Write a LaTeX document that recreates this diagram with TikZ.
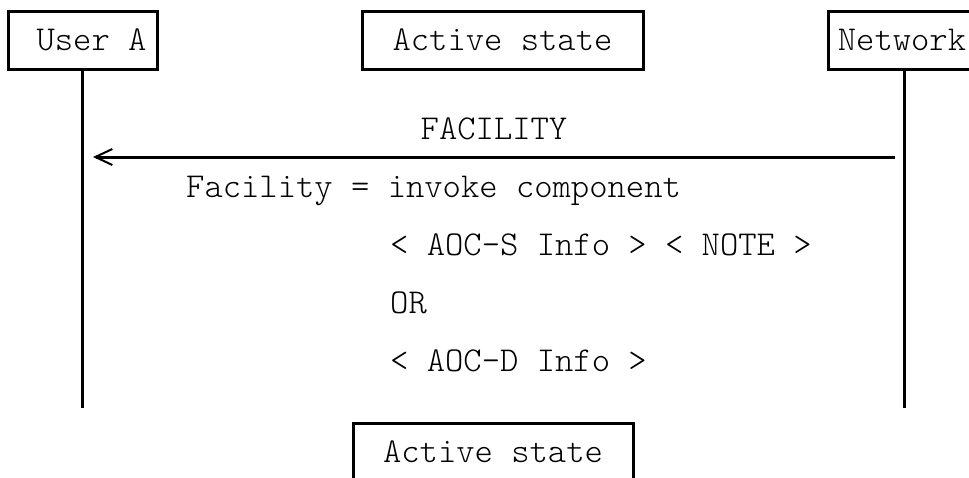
\documentclass[tikz,border=0pt]{standalone}
\usetikzlibrary{arrows.meta}

\begin{document}
\begin{tikzpicture}[x=1pt,y=-1pt,
	box/.style={draw=black,line width=3pt,minimum height=58pt},
	life/.style={black,line width=3pt},
	msg/.style={black,line width=3pt,-{Straight Barb[length=17pt,width=16pt,line width=2pt]}},
	font=\fontseries{l}\ttfamily\fontsize{34.9}{40}\selectfont]
	\tikzstyle{every node}+=[inner sep=0pt]
	\useasboundingbox (0,0) rectangle (969,477);
	\clip (0,0) rectangle (969,477);
	% boxes on top
	\node [box,minimum width=149pt] (usera) at (82.5,40) {\hspace*{18pt}User A};
	\node [box,minimum width=281pt] (active1) at (502.5,40) {Active state};
	\node [box,minimum width=152pt] (network) at (904,40) {Network\hspace*{4pt}};
	% lifelines
	\coordinate (usera-end) at (82.5,408);
	\coordinate (network-end) at (904,408);
	\draw [life] (usera) -- (usera-end);
	\draw [life] (network) -- (network-end);
	% FACILITY message
	\coordinate (fac-from) at (895,157);
	\coordinate (fac-to) at (93,157);
	\draw [msg] (fac-from) -- (fac-to);
	\node [anchor=base] (faclabel) at (494,139) {FACILITY};
	\node [anchor=base west] (facinfo) at (186,197) {Facility = invoke component};
	\node [anchor=base west] (aocs) at (390,255) {< AOC-S Info > < NOTE >};
	\node [anchor=base west] (or) at (390,313) {OR};
	\node [anchor=base west] (aocd) at (390,371) {< AOC-D Info >};
	% box at the bottom
	\node [box,minimum width=280pt] (active2) at (493,452) {Active state};
\end{tikzpicture}
\end{document}
